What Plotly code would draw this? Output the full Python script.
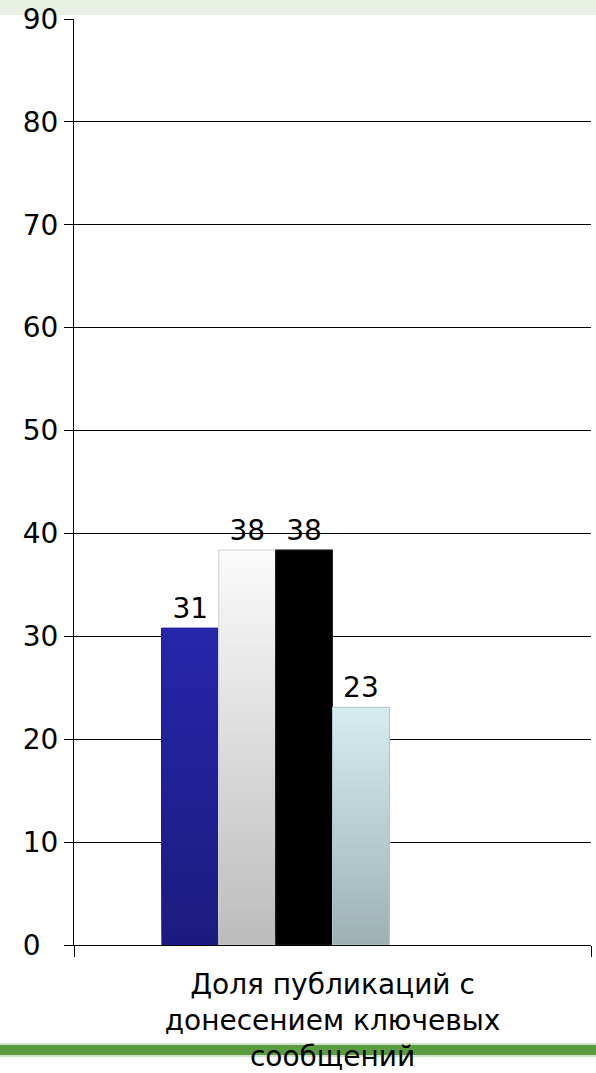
import plotly.graph_objects as go

# ---- data -------------------------------------------------------------
category = "Доля публикаций с<br>донесением ключевых<br>сообщений"
series_names = ["Серия 1", "Серия 2", "Серия 3", "Серия 4", "Серия 5", "Серия 6"]
values = [30.8, 38.4, 38.4, 23.1, None, None]
y_ticks = [0, 10, 20, 30, 40, 50, 60, 70, 80, 90]
y_tick_labels = ["0", "10", "20", "30", "40", "50", "60", "70", "80", "90"]

# ---- style ------------------------------------------------------------
top_colors = ["#2626ac", "#fbfbfb", "#000000", "#d5edf1", None, None]
bottom_colors = ["#1b1b7e", "#bcbcbc", "#000000", "#9db1b3", None, None]
edge_colors = ["#20209a", "#d2d2d2", "#222222", "#b3c4c6", None, None]
FONT = "DejaVu Sans, Verdana, sans-serif"
FS = 28


def hex_to_rgb(h):
    h = h.lstrip("#")
    return tuple(int(h[i:i + 2], 16) for i in (0, 2, 4))


def mix(c_bottom, c_top, t):
    a, b = hex_to_rgb(c_bottom), hex_to_rgb(c_top)
    r, g, bl = (round(a[k] + (b[k] - a[k]) * t) for k in range(3))
    return f"rgb({r},{g},{bl})"


n_slots = len(series_names)
group_width = 0.66
slot = group_width / n_slots
n_steps = 90

fig = go.Figure()
for i, (name, v) in enumerate(zip(series_names, values)):
    if v is None:
        continue
    off = -group_width / 2 + i * slot
    step = v / n_steps
    bases = [k * step for k in range(n_steps)]
    # vertical gradient: each slice runs from its base to the top of the bar,
    # later (higher) slices are painted over earlier ones, so no seams show
    fig.add_trace(go.Bar(
        x=[category] * n_steps,
        y=[v - b for b in bases],
        base=bases,
        width=slot, offset=off,
        marker=dict(color=[mix(bottom_colors[i], top_colors[i], (k + 0.5) / n_steps)
                           for k in range(n_steps)],
                    line=dict(width=0)),
        hoverinfo="skip", showlegend=False,
    ))
    # outline and value label
    fig.add_trace(go.Bar(
        x=[category], y=[v], name=name,
        width=slot, offset=off,
        marker=dict(color="rgba(0,0,0,0)", line=dict(color=edge_colors[i], width=1)),
        texttemplate="%{y:.0f}", textposition="outside",
        textfont=dict(family=FONT, size=FS, color="#000000"),
        cliponaxis=False, showlegend=False,
    ))

# decorative bands above and below the chart
fig.add_shape(type="rect", xref="paper", yref="paper", ysizemode="pixel", yanchor=1,
              x0=-1, x1=2, y0=4, y1=30, fillcolor="#e9f1e4", line_width=0, layer="below")
fig.add_shape(type="rect", xref="paper", yref="paper", ysizemode="pixel", yanchor=0,
              x0=-1, x1=2, y0=-112, y1=-98, fillcolor="#cfe3c6", line_width=0, layer="below")
fig.add_shape(type="rect", xref="paper", yref="paper", ysizemode="pixel", yanchor=0,
              x0=-1, x1=2, y0=-110, y1=-100, fillcolor="#5b9b42", line_width=0, layer="below")

# single-digit labels padded with a figure space so the column reads left-aligned
padded_labels = [t if len(t) > 1 else t + "\u2007" for t in y_tick_labels]

fig.update_layout(
    width=596, height=1073,
    margin=dict(l=74, r=5, t=19, b=128, autoexpand=False),
    barmode="overlay",
    paper_bgcolor="#ffffff", plot_bgcolor="#ffffff",
    font=dict(family=FONT, size=FS, color="#000000"),
    showlegend=False,
)
fig.update_xaxes(
    type="category", automargin=False,
    showline=True, linecolor="#000000", linewidth=1,
    ticks="outside", tickson="boundaries", ticklen=11, tickcolor="#000000",
    ticklabelstandoff=14,
    showgrid=False,
    tickfont=dict(family=FONT, size=FS, color="#000000"),
)
fig.update_yaxes(
    range=[0, 90], tickvals=y_ticks, ticktext=padded_labels, automargin=False,
    showline=True, linecolor="#000000", linewidth=1,
    ticks="outside", ticklen=9, tickcolor="#000000",
    showgrid=True, gridcolor="#000000", gridwidth=1,
    zeroline=False,
    tickfont=dict(family=FONT, size=FS, color="#000000"),
)

fig.write_html("out.html")
